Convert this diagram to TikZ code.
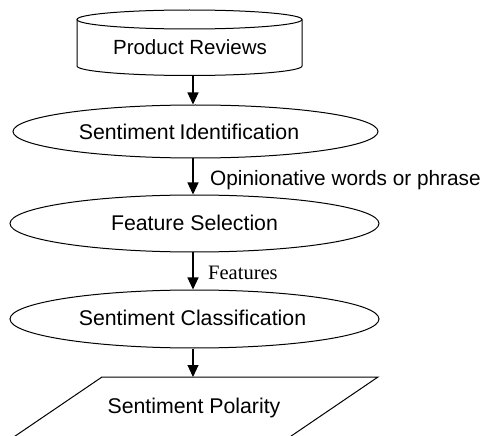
\documentclass[tikz,border=0pt]{standalone}
\usepackage{fontspec}
\setmainfont{Liberation Sans}
\newfontfamily\timesfont{Liberation Serif}
\usetikzlibrary{shapes.geometric,arrows.meta}
\tikzset{
  lbl/.style={font=\fontsize{20.5}{24}\selectfont, inner sep=0pt},
  big/.style={font=\fontsize{21.3}{25}\selectfont, inner sep=0pt},
  ell/.style={draw, ellipse, inner sep=0pt, line width=1pt},
  flow/.style={line width=1.1pt, -{Triangle[width=11pt,length=12pt]}},
  outline/.style={draw, line width=1pt}
}
\begin{document}
\begin{tikzpicture}[x=1pt,y=-1pt]
\useasboundingbox (0,0) rectangle (483,436);
\clip (0,0) rectangle (483,436);
% cylinder
\draw[outline] (189.5,19.5) ellipse [x radius=112.5pt, y radius=9.5pt];
\draw[outline] (77,19.5) -- (77,66) arc[start angle=180, end angle=360, x radius=112.5pt, y radius=9.5pt] -- (302,19.5);
\node[lbl] (pr) at (190,47) {Product Reviews};
\coordinate (cylbot) at (193,75.5);
% ellipses
\node[ell, minimum width=365pt, minimum height=53pt] (e1) at (195.5,131.5) {};
\node[big] (t1) at (189,132) {Sentiment\kern-1pt\ Identification};
\node[ell, minimum width=369pt, minimum height=57pt] (e2) at (194.5,223.5) {};
\node[big] (t2) at (194.5,223) {Feature Selection};
\node[ell, minimum width=369pt, minimum height=58pt] (e3) at (194.5,319) {};
\node[big] (t3) at (192.5,318) {Sentiment Classification};
% parallelogram
\draw[outline] (102,377) -- (378,377) -- (278,445) -- (2,445) -- cycle;
\node[big] (pol) at (194,408) {Sentiment Polarity};
\coordinate (paratop) at (193,377);
% arrows
\draw[flow] (cylbot) -- (cylbot |- e1.north);
\draw[flow] (cylbot |- e1.south) -- (cylbot |- e2.north);
\draw[flow] (cylbot |- e2.south) -- (cylbot |- e3.north);
\draw[flow] (cylbot |- e3.south) -- (paratop);
% labels
\node[lbl, anchor=west, font=\fontsize{20.8}{24}\selectfont] (l1) at (210,180) {Opinionative words or phrase};
\node[lbl, anchor=west, font=\timesfont\fontsize{20.5}{24}\selectfont] (l2) at (208,273) {Features};
\end{tikzpicture}
\end{document}
